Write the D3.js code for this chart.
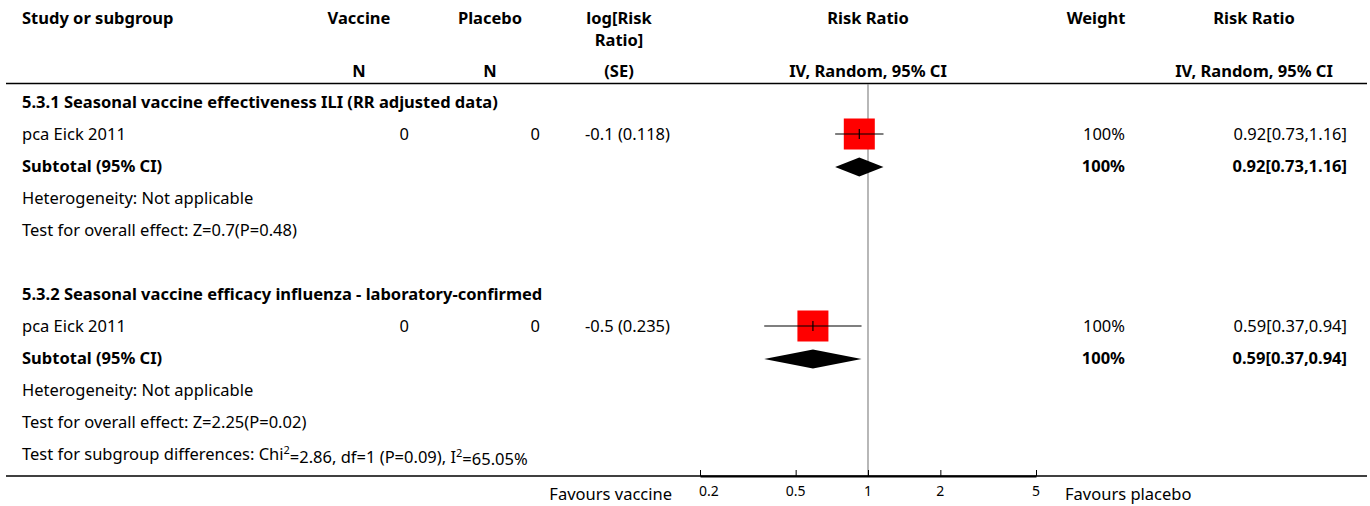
<!DOCTYPE html>
<html><head><meta charset="utf-8">
<script src="https://cdn.jsdelivr.net/npm/d3@7"></script>
<style>
html,body{margin:0;padding:0;background:#fff;}
svg text{font-family:"Noto Sans",sans-serif;font-size:16.5px;fill:#000;}
</style></head>
<body>
<svg id="c" width="1370" height="506"></svg>
<script>
const subgroups = ["5.3.1 Seasonal vaccine effectiveness ILI (RR adjusted data)", "5.3.2 Seasonal vaccine efficacy influenza - laboratory-confirmed"];
const studies = ["pca Eick 2011", "pca Eick 2011"];
const vaccineN = [0, 0];
const placeboN = [0, 0];
const logRRSE = ["-0.1 (0.118)", "-0.5 (0.235)"];
const rr = [0.92, 0.59];
const lower = [0.73, 0.37];
const upper = [1.16, 0.94];
const weights = [100, 100];
const subtotalRR = [0.92, 0.59];
const subtotalLower = [0.73, 0.37];
const subtotalUpper = [1.16, 0.94];
const heterogeneity = ["Not applicable", "Not applicable"];
const overallEffect = ["Z=0.7(P=0.48)", "Z=2.25(P=0.02)"];
const tickValues = [0.2, 0.5, 1, 2, 5];
const tickLabels = ["0.2", "0.5", "1", "2", "5"];

const svg = d3.select("#c");
const x = d3.scaleLog().domain([0.2, 5]).range([700, 1036]);
const rowH = 32, row0 = 102;
const ry = i => row0 + i * rowH;
const fmt = d3.format(".2f");

function txt(xp, yp, s, anchor, bold) {
  return svg.append("text").attr("x", xp).attr("y", yp).attr("dy", "0.35em")
    .attr("text-anchor", anchor || "start").attr("font-weight", bold ? "bold" : null).text(s);
}

// header
txt(22, 18, "Study or subgroup", "start", true);
txt(359, 18, "Vaccine", "middle", true);
txt(490, 18, "Placebo", "middle", true);
txt(619, 18, "log[Risk", "middle", true);
txt(619, 40, "Ratio]", "middle", true);
txt(868, 18, "Risk Ratio", "middle", true);
txt(1096, 18, "Weight", "middle", true);
txt(1254, 18, "Risk Ratio", "middle", true);
txt(359, 71, "N", "middle", true);
txt(490, 71, "N", "middle", true);
txt(619, 71, "(SE)", "middle", true);
txt(868, 71, "IV, Random, 95% CI", "middle", true);
txt(1254, 71, "IV, Random, 95% CI", "middle", true);

svg.append("line").attr("x1", 6).attr("x2", 1367).attr("y1", 83.5).attr("y2", 83.5)
  .attr("stroke", "#000").attr("stroke-width", 1.5);

// null line
svg.append("line").attr("x1", x(1)).attr("x2", x(1)).attr("y1", 84).attr("y2", 476)
  .attr("stroke", "#888").attr("stroke-width", 1.2);

const sqScale = d3.scaleSqrt().domain([0, 100]).range([0, 31]);

subgroups.forEach((g, k) => {
  const base = k * 6;
  txt(22, ry(base), g, "start", true);
  // study row
  const yS = ry(base + 1);
  txt(22, yS, studies[k]);
  txt(409, yS, vaccineN[k], "end");
  txt(540, yS, placeboN[k], "end");
  txt(670, yS, logRRSE[k], "end");
  txt(1125, yS, weights[k] + "%", "end");
  txt(1347, yS, fmt(rr[k]) + "[" + fmt(lower[k]) + "," + fmt(upper[k]) + "]", "end");
  const s = sqScale(weights[k]);
  svg.append("rect").attr("x", x(rr[k]) - s / 2).attr("y", yS - s / 2)
    .attr("width", s).attr("height", s).attr("fill", "#ff0000");
  svg.append("line").attr("x1", x(lower[k])).attr("x2", x(upper[k])).attr("y1", yS).attr("y2", yS)
    .attr("stroke", "#000").attr("stroke-width", 1.2);
  svg.append("line").attr("x1", x(rr[k])).attr("x2", x(rr[k])).attr("y1", yS - 5).attr("y2", yS + 5)
    .attr("stroke", "#000").attr("stroke-width", 1.2);
  // subtotal
  const yT = ry(base + 2);
  txt(22, yT, "Subtotal (95% CI)", "start", true);
  txt(1125, yT, weights[k] + "%", "end", true);
  txt(1347, yT, fmt(subtotalRR[k]) + "[" + fmt(subtotalLower[k]) + "," + fmt(subtotalUpper[k]) + "]", "end", true);
  const dy = yT + 1;
  svg.append("path")
    .attr("d", `M${x(subtotalLower[k])},${dy} L${x(subtotalRR[k])},${dy - 9.5} L${x(subtotalUpper[k])},${dy} L${x(subtotalRR[k])},${dy + 9.5} Z`)
    .attr("fill", "#000");
  txt(22, ry(base + 3), "Heterogeneity: " + heterogeneity[k]);
  txt(22, ry(base + 4), "Test for overall effect: " + overallEffect[k]);
});

// subgroup differences
const td = svg.append("text").attr("x", 22).attr("y", ry(11)).attr("dy", "0.35em");
td.append("tspan").text("Test for subgroup differences: Chi");
td.append("tspan").attr("font-size", "11px").attr("dy", "-0.5em").text("2");
td.append("tspan").attr("dy", "0.5em").text("=2.86, df=1 (P=0.09), I");
td.append("tspan").attr("font-size", "11px").attr("dy", "-0.5em").text("2");
td.append("tspan").attr("dy", "0.5em").text("=65.05%");

// bottom line + axis
svg.append("line").attr("x1", 6).attr("x2", 1367).attr("y1", 476).attr("y2", 476)
  .attr("stroke", "#000").attr("stroke-width", 1.5);
const ax = svg.append("g").attr("transform", "translate(0,476)")
  .call(d3.axisTop(x).tickValues(tickValues).tickFormat((d, i) => "").tickSize(6).tickSizeOuter(0));
ax.select(".domain").attr("stroke", "#000").attr("stroke-width", 2);
ax.selectAll(".tick line").attr("stroke", "#000").attr("stroke-width", 1);
tickValues.forEach((v, i) => {
  svg.append("text").attr("x", x(v) + (i === 0 ? 9 : 0)).attr("y", 491).attr("dy", "0.35em")
    .attr("text-anchor", "middle").style("font-size", "14px").text(tickLabels[i]);
});
txt(672, 494, "Favours vaccine", "end");
txt(1065, 494, "Favours placebo", "start");
</script>
</body></html>
